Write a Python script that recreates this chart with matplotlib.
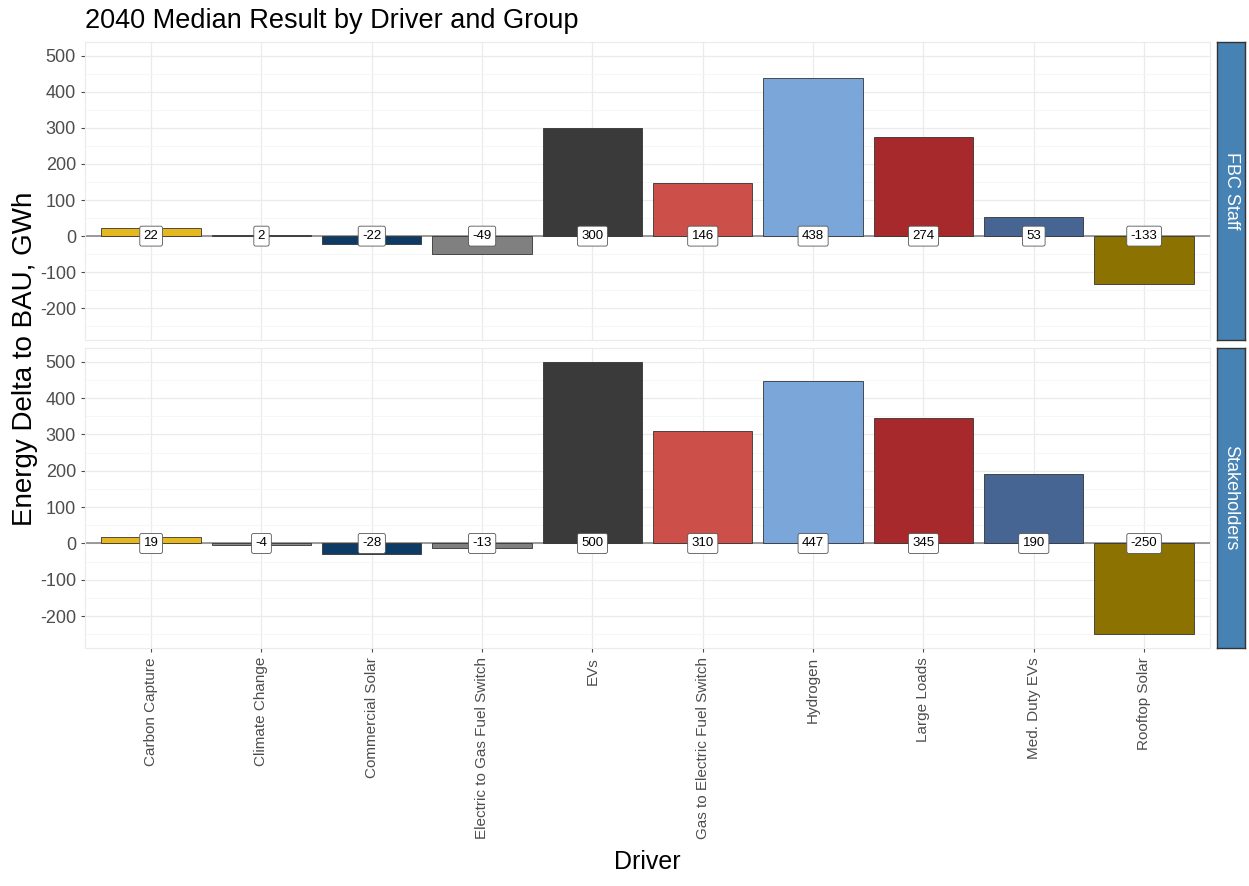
import numpy as np
import matplotlib.pyplot as plt

plt.rcParams['font.family'] = ['Liberation Sans', 'DejaVu Sans']
plt.rcParams['axes.unicode_minus'] = False

drivers = ['Carbon Capture', 'Climate Change', 'Commercial Solar',
           'Electric to Gas Fuel Switch', 'EVs', 'Gas to Electric Fuel Switch',
           'Hydrogen', 'Large Loads', 'Med. Duty EVs', 'Rooftop Solar']
groups = ['FBC Staff', 'Stakeholders']
fbc_staff = [22, 2, -22, -49, 300, 146, 438, 274, 53, -133]
stakeholders = [19, -4, -28, -13, 500, 310, 447, 345, 190, -250]

colors = ['#E5B81F', '#8C8C8C', '#0E3A66', '#808080', '#3A3A3A',
          '#CD4F4A', '#7AA6D9', '#A8292B', '#466592', '#8C7200']

fig = plt.figure(figsize=(12.49, 8.86), dpi=100)
left, right = 0.068, 0.969
panels = [(0.6163, 0.9526), (0.2686, 0.6072)]
x = np.arange(len(drivers))

for (bot, top), grp, vals in zip(panels, groups, [fbc_staff, stakeholders]):
    ax = fig.add_axes([left, bot, right - left, top - bot])
    ax.set_ylim(-287.5, 537.5)
    ax.set_xlim(-0.6, len(drivers) - 0.4)
    ax.set_yticks([-200, -100, 0, 100, 200, 300, 400, 500])
    ax.set_yticks(np.arange(-250, 550, 100), minor=True)
    ax.set_xticks(x)
    ax.grid(which='major', color='#EBEBEB', lw=0.9, zorder=0)
    ax.grid(which='minor', axis='y', color='#F5F5F5', lw=0.6, zorder=0)
    ax.set_axisbelow(True)
    ax.axhline(0, color='#8A8A8A', lw=1.2, zorder=1)
    ax.bar(x, vals, width=0.9, color=colors, edgecolor='#333333', lw=0.6, zorder=2)
    for xi, v in zip(x, vals):
        ax.text(xi, 0, str(v), ha='center', va='center', fontsize=9.5, color='black',
                zorder=4,
                bbox=dict(boxstyle='round,pad=0.3,rounding_size=0.15', fc='white',
                          ec='#555555', lw=0.6))
    for s in ax.spines.values():
        s.set_color('#EBEBEB')
    ax.tick_params(axis='y', colors='#4D4D4D', labelsize=13, length=3)
    ax.tick_params(which='minor', length=0)
    ax.tick_params(axis='x', colors='#4D4D4D', length=3)
    if grp == groups[0]:
        ax.tick_params(axis='x', labelbottom=False, length=0)
    else:
        ax.set_xticklabels(drivers, rotation=90, fontsize=11, color='#4D4D4D')
        ax.set_xlabel('Driver', fontsize=18, color='black', labelpad=8)
    # facet strip
    sax = fig.add_axes([0.9744, bot, 0.0224, top - bot])
    sax.set_facecolor('#4682B4')
    sax.set_xticks([])
    sax.set_yticks([])
    for s in sax.spines.values():
        s.set_color('#333333')
        s.set_linewidth(1.0)
    sax.text(0.5, 0.5, grp, rotation=-90, ha='center', va='center',
             color='white', fontsize=13, transform=sax.transAxes)

fig.text(0.02, 0.595, 'Energy Delta to BAU, GWh', rotation=90, ha='center',
         va='center', fontsize=20)
fig.text(0.068, 0.976, '2040 Median Result by Driver and Group', ha='left',
         va='center', fontsize=19.5)

plt.savefig('out.png', dpi=100)
